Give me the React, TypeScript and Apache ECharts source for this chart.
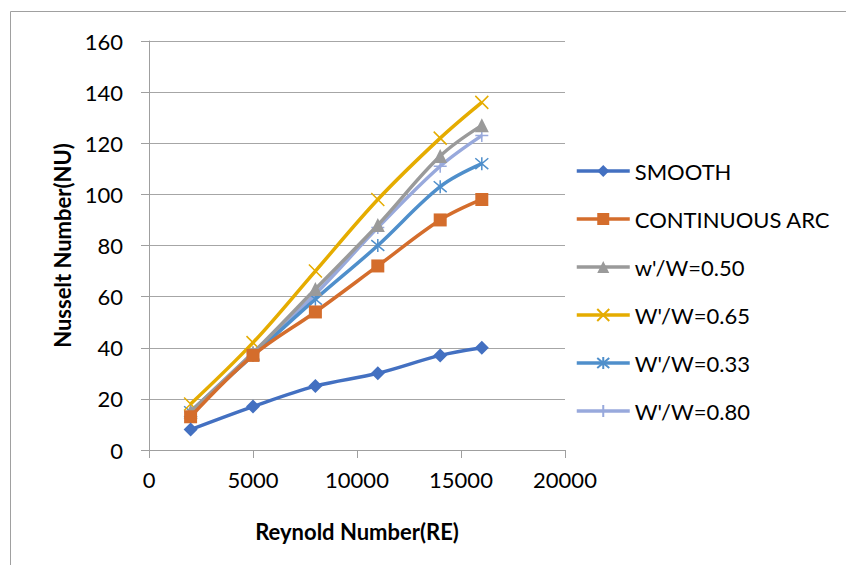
import React, { useEffect, useRef } from "react";
import * as echarts from "echarts";

const reynolds = [2000, 5000, 8000, 11000, 14000, 16000];
const smooth = [8, 17, 25, 30, 37, 40];
const continuousArc = [13, 37, 54, 72, 90, 98];
const w050 = [15, 38, 63, 88, 115, 127];
const w065 = [18, 42, 70, 98, 122, 136];
const w033 = [15, 37, 59, 80, 103, 112];
const w080 = [15, 38, 61, 87, 111, 123];

const seriesNames = ["SMOOTH", "CONTINUOUS ARC", "w'/W=0.50", "W'/W=0.65", "W'/W=0.33", "W'/W=0.80"];
const seriesValues = [smooth, continuousArc, w050, w065, w033, w080];
const colors = ["#4370C1", "#D46D2C", "#9A9A9A", "#E5AC00", "#4F8FCB", "#98A9DC"];

const FONT = "Lato";

const X_PATH = "path://M0,0L10,10M10,0L0,10";
const STAR_PATH = "path://M0,0L10,10M10,0L0,10M5,-1L5,11";
const PLUS_PATH = "path://M5,0L5,10M0,5L10,5";

const symbols = ["diamond", "rect", "triangle", X_PATH, STAR_PATH, PLUS_PATH];
const symbolSizes = [14, 13, 14, 13, 13, 13];

export default function App() {
  const ref = useRef<HTMLDivElement>(null);
  useEffect(() => {
    if (!ref.current) return;
    const chart = echarts.init(ref.current, undefined, { renderer: "svg" });
    const series = seriesNames.map((name, i) => {
      const stroked = i >= 3;
      return {
        name,
        type: "line",
        smooth: 0.35,
        data: reynolds.map((x, j) => [x, seriesValues[i][j]]),
        symbol: symbols[i],
        symbolSize: symbolSizes[i],
        lineStyle: { color: colors[i], width: 3.5 },
        itemStyle: stroked
          ? { color: colors[i], borderColor: colors[i], borderWidth: 1.5 }
          : { color: colors[i], borderWidth: 0 },
        z: 10 - i,
      };
    });
    chart.setOption({
      animation: false,
      backgroundColor: "#ffffff",
      textStyle: { fontFamily: FONT },
      grid: { left: 149, right: 281, top: 41, bottom: 115, containLabel: false },
      graphic: [
        {
          type: "rect",
          shape: { x: 10.5, y: 11.5, width: 900, height: 600 },
          style: { fill: "none", stroke: "#A0A0A0", lineWidth: 1 },
          silent: true,
        },
      ],
      legend: {
        orient: "vertical",
        left: 570,
        top: 155,
        itemWidth: 53,
        itemHeight: 15,
        itemGap: 26,
        data: seriesNames,
        lineStyle: { width: 3.5 },
        textStyle: { fontFamily: FONT, fontSize: 22, color: "#000" },
      },
      xAxis: {
        type: "value",
        min: 0,
        max: 20000,
        interval: 5000,
        name: "Reynold Number(RE)",
        nameLocation: "middle",
        nameGap: 70,
        nameTextStyle: { fontFamily: FONT, fontSize: 22, fontWeight: "bold", color: "#000" },
        axisLine: { show: true, lineStyle: { color: "#9F9F9F", width: 1 } },
        axisTick: { show: true, length: 8, lineStyle: { color: "#9F9F9F" } },
        axisLabel: {
          fontFamily: FONT,
          fontSize: 22,
          color: "#000",
          margin: 18,
          formatter: (v: number) => String(v),
        },
        splitLine: { show: false },
      },
      yAxis: {
        type: "value",
        min: 0,
        max: 160,
        interval: 20,
        name: "Nusselt Number(NU)",
        nameLocation: "middle",
        nameGap: 76,
        nameTextStyle: { fontFamily: FONT, fontSize: 22, fontWeight: "bold", color: "#000" },
        axisLine: { show: true, lineStyle: { color: "#9F9F9F", width: 1 } },
        axisTick: { show: true, length: 8, lineStyle: { color: "#9F9F9F" } },
        axisLabel: { fontFamily: FONT, fontSize: 22, color: "#000", margin: 26 },
        splitLine: { show: true, lineStyle: { color: "#A6A6A6", width: 1 } },
      },
      series,
    });
    return () => chart.dispose();
  }, []);
  return (
    <div
      ref={ref}
      style={{ position: "absolute", left: 0, top: 0, width: 846, height: 565 }}
    />
  );
}
